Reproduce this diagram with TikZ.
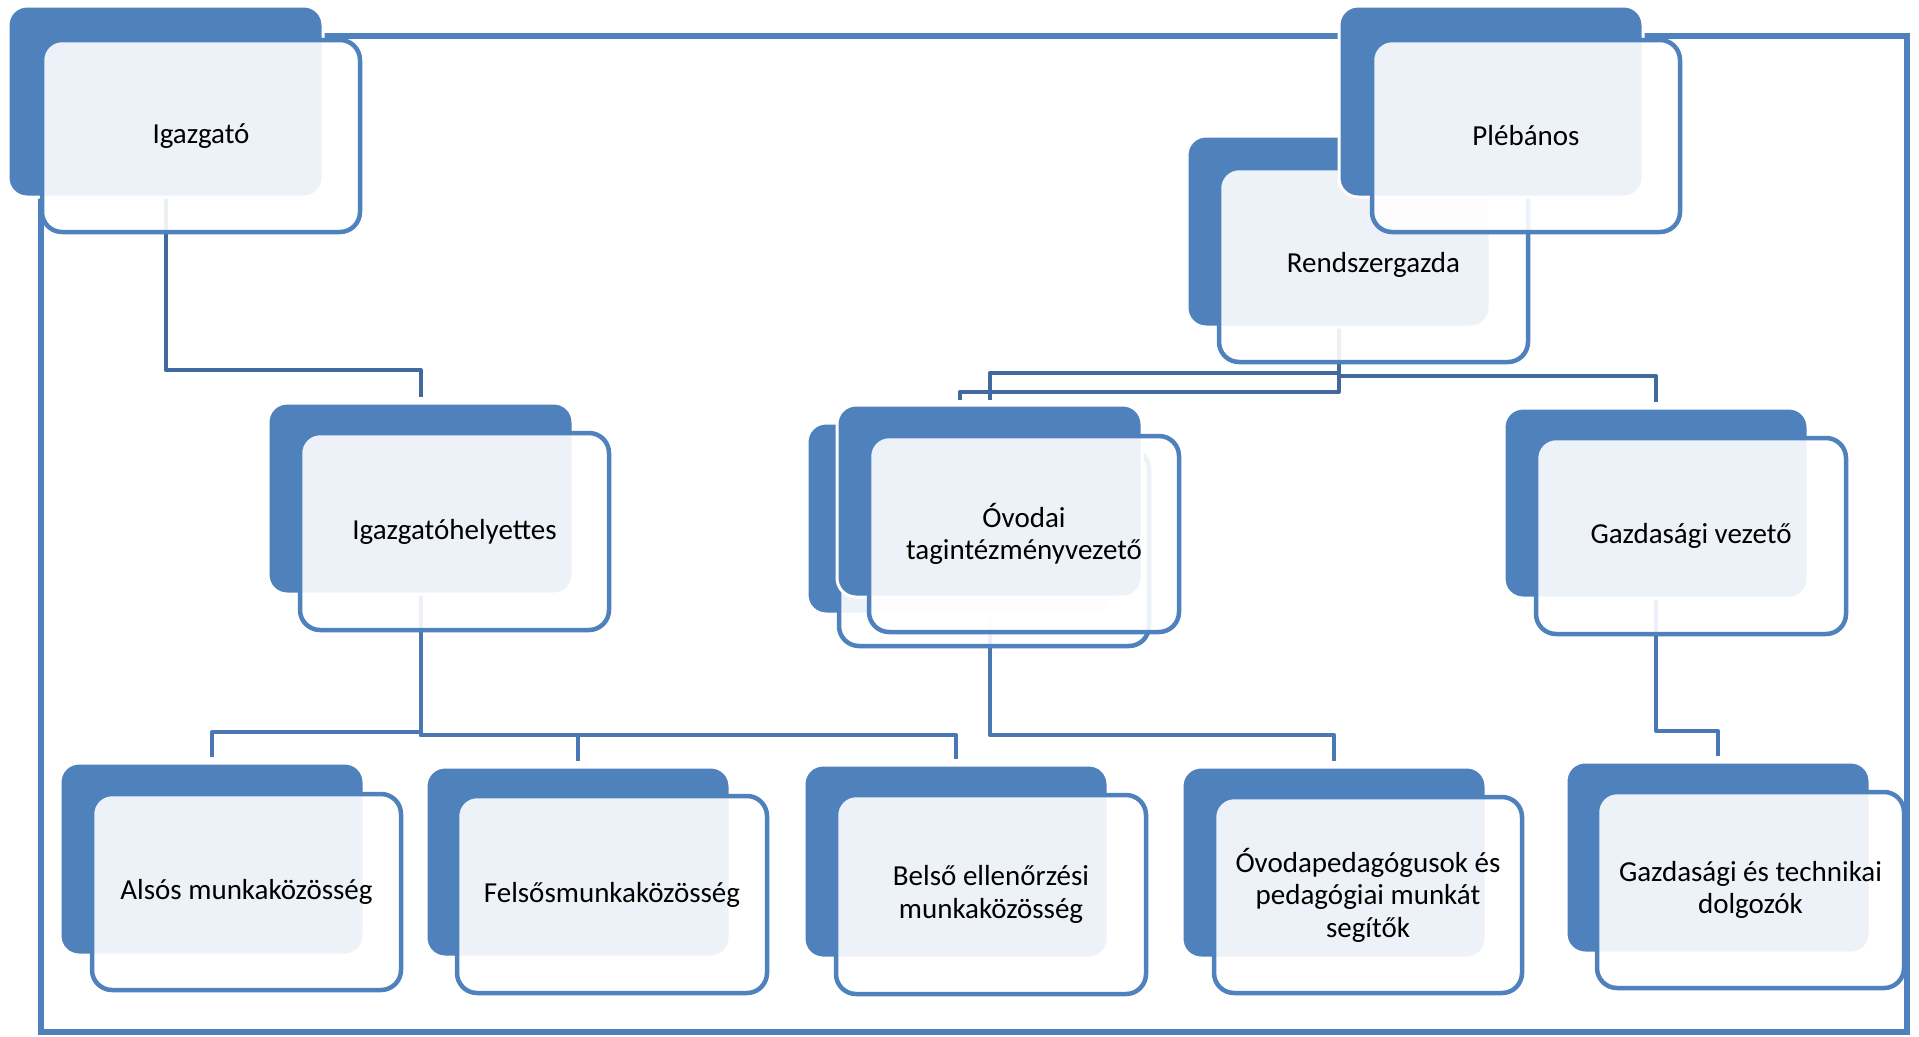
\documentclass[tikz,border=0pt]{standalone}
\usepackage{fontspec}
\setmainfont{Carlito}
\usetikzlibrary{calc,backgrounds}
\definecolor{accent}{HTML}{4F81BD}
\definecolor{connA}{HTML}{41699D}
\definecolor{connB}{HTML}{4A78B3}
\tikzset{
  darkbox/.style={rectangle, rounded corners=19pt, fill=accent, draw=white, line width=3pt, inner sep=0pt, outer sep=0pt},
  outbox/.style={rectangle, rounded corners=20pt, fill=white, fill opacity=0.9, text opacity=1, draw=accent, line width=4.5pt, inner sep=0pt, outer sep=0pt, align=center, text=black, font=\fontsize{29pt}{32.5pt}\selectfont},
  linkA/.style={draw=connA, line width=4pt, line join=round},
  linkB/.style={draw=connB, line width=4pt, line join=round},
  bigframe/.style={draw=accent, line width=6pt}
}
\newcommand\orgbox[8]{%
  \node[darkbox, minimum width=#3pt, minimum height=#4pt] (#1) at (#2) {};
  \node[outbox, minimum width=#6pt, minimum height=#7pt] (#1o) at (#5) {#8};
}
\begin{document}
\begin{tikzpicture}[x=1pt,y=-1pt]
\useasboundingbox (0,0) rectangle (1919,1036);

\orgbox{igd}{165.5,101.5}{315}{191}{201,136}{318}{192}{Igazgató}
\orgbox{ighd}{420.5,498.5}{305}{191}{454.5,531.5}{309}{197}{Igazgatóhelyettes}
\orgbox{als}{212,859}{304}{192}{246.5,892}{309}{196}{Alsós munkaközösség}
\orgbox{fel}{578,862}{304}{190}{612,894.5}{310}{197}{Felsősmunkaközösség}
\orgbox{bel}{956,861.5}{304}{193}{991,894.5}{310}{199}{Belső ellenőrzési\\munkaközösség}
\orgbox{ovb}{959.5,518.5}{305}{191}{994,547.5}{310}{197}{}
\orgbox{ovf}{989.5,501}{305}{192}{1024,534}{310}{196}{Óvodai\\tagintézményvezető}
\orgbox{ovp}{1334,862.5}{304}{191}{1368,895}{308}{196}{Óvodapedagógusok és\\pedagógiai munkát\\segítők}
\orgbox{rend}{1338.5,231.5}{303}{191}{1373.5,265}{309}{194}{Rendszergazda}
\orgbox{pleb}{1491,101.5}{304}{191}{1526,136}{308}{192}{Plébános}
\orgbox{gv}{1656,503}{304}{190}{1691,536}{310}{196}{Gazdasági vezető}
\orgbox{gt}{1718,857.5}{304}{191}{1750.5,890}{307}{196}{Gazdasági és technikai\\dolgozók}

\begin{pgfonlayer}{background}
  \draw[bigframe] (40.5,36) rectangle (1907,1032);
  \coordinate (h370) at (0,370);
  \coordinate (h373) at (0,373);
  \coordinate (h376) at (0,376);
  \coordinate (h392) at (0,392);
  \coordinate (h731) at (0,731);
  \coordinate (h732) at (0,732);
  \coordinate (h735) at (0,735);
  \coordinate (ovftop) at ($(ovf.north)+(0,-5)$);
  % level 1
  \draw[linkA] (igd.south) -- (igd.south |- h370) -- (ighd.north |- h370) -- ($(ighd.north)+(0,-6)$);
  \draw[linkA] (rend.south) -- (rend.south |- h373) -- (ovf.north |- h373) -- (ovftop);
  \draw[linkA] (rend.south) -- (rend.south |- h392) -- (ovb.north |- h392) -- (ovb.north |- ovftop);
  \draw[linkA] (rend.south) -- (rend.south |- h376) -- (gv.north |- h376) -- ($(gv.north)+(0,-6)$);
  % level 2
  \draw[linkB] (ighd.south) -- (ighd.south |- h732) -- (als.north |- h732) -- ($(als.north)+(0,-6)$);
  \draw[linkB] (ighd.south) -- (ighd.south |- h735) -- (fel.north |- h735) -- ($(fel.north)+(0,-6)$);
  \draw[linkB] (ighd.south) -- (ighd.south |- h735) -- (bel.north |- h735) -- ($(bel.north)+(0,-6)$);
  \draw[linkB] (ovf.south) -- (ovf.south |- h735) -- (ovp.north |- h735) -- ($(ovp.north)+(0,-6)$);
  \draw[linkB] (gv.south) -- (gv.south |- h731) -- (gt.north |- h731) -- ($(gt.north)+(0,-6)$);
\end{pgfonlayer}
\end{tikzpicture}
\end{document}
